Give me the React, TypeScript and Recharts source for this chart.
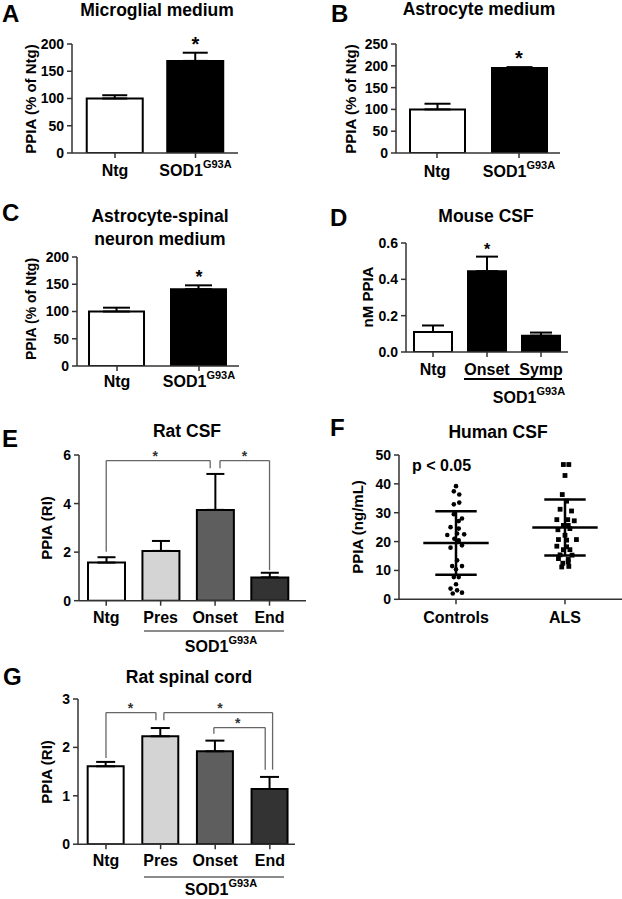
import React from 'react';
import {
  ComposedChart,
  ScatterChart,
  Bar,
  Cell,
  ErrorBar,
  Scatter,
  XAxis,
  YAxis,
  ReferenceLine,
  ReferenceDot,
} from 'recharts';

const FONT = '"Liberation Sans", Arial, Helvetica, sans-serif';

// ---- data ----
const twoCats = ['Ntg', 'SOD1^G93A'];
const stageCats = ['Ntg', 'Pres', 'Onset', 'End'];
const mouseCats = ['Ntg', 'Onset', 'Symp'];
const humanCats = ['Controls', 'ALS'];

const microgliaMean = [100, 169];
const microgliaSem = [6, 15];
const astroMean = [100, 195];
const astroSem = [13, 2];
const coCultureMean = [100, 141];
const coCultureSem = [7, 7];
const mouseCsfMean = [0.11, 0.445, 0.09];
const mouseCsfSem = [0.036, 0.08, 0.017];
const ratCsfMean = [1.57, 2.05, 3.74, 0.96];
const ratCsfSem = [0.22, 0.41, 1.48, 0.19];
const ratCordMean = [1.61, 2.23, 1.92, 1.14];
const ratCordSem = [0.09, 0.17, 0.22, 0.25];

const controlsValues = [39.2, 37.4, 36.3, 33.5, 32.9, 29.5, 28, 27.1, 25, 24.5, 22.3, 22.8, 22.5, 21, 20.4, 17.9, 18.7, 13.5, 11.5, 11.5, 10.4, 7.7, 7.7, 5.2, 3.7, 3.1, 2.0, 2.3];
const controlsJitter = [0, -0.02, 0.03, 0.03, -0.02, -0.02, 0.055, 0.025, -0.05, 0.025, -0.08, 0.01, 0.075, -0.015, 0.025, -0.05, 0.055, 0.01, -0.035, 0.055, 0, -0.02, 0.025, 0, -0.05, 0.01, -0.03, 0.055];
const alsValues = [46.7, 46.7, 42.9, 36.3, 34, 31.2, 30.6, 27.6, 27.6, 27.2, 25.6, 25.6, 24.1, 24.5, 22.2, 20.7, 20.5, 20.7, 18.4, 18.2, 17.2, 17.2, 15.4, 15.3, 14.1, 13.8, 12.5, 13, 11.2, 11.4];
const alsJitter = [-0.015, 0.035, 0, -0.025, 0.015, -0.045, 0.06, -0.075, 0.025, 0.085, -0.015, 0.03, -0.065, 0.045, 0, -0.06, 0.015, 0.105, -0.075, 0.015, -0.015, 0.045, -0.045, 0.065, -0.06, 0.03, -0.02, 0.03, -0.03, 0.035];
const humanMean = [19.5, 24.9];
const humanSd = [11.0, 9.7];

const ticks200 = [0, 50, 100, 150, 200];
const ticks250 = [0, 50, 100, 150, 200, 250];
const ticksMouse = [0, 0.2, 0.4, 0.6];
const ticksRatCsf = [0, 2, 4, 6];
const ticksHuman = [0, 10, 20, 30, 40, 50];
const ticksRatCord = [0, 1, 2, 3];

type Bracket = { x1: number; x2: number; y1: number; top: number; y2: number; star: number };

const ratCsfBrackets: Bracket[] = [
  { x1: 1, x2: 2.91, y1: 2.02, top: 5.77, y2: 5.45, star: 1.9 },
  { x1: 3.09, x2: 4, y1: 5.45, top: 5.77, y2: 1.26, star: 3.54 },
];
const ratCordBrackets: Bracket[] = [
  { x1: 1, x2: 1.915, y1: 1.78, top: 2.72, y2: 2.56, star: 1.45 },
  { x1: 2.06, x2: 4.05, y1: 2.56, top: 2.72, y2: 1.54, star: 3.085 },
  { x1: 2.975, x2: 3.915, y1: 2.28, top: 2.41, y2: 1.54, star: 3.41 },
];

const stageFills = ['#ffffff', '#d4d4d4', '#5e5e5e', '#333333'];

// ---- layout helpers ----
const YW = 50;
const PT = 18;
const XH = 40;
const axisStyle = { stroke: '#333', strokeWidth: 1.5 };
const yTickStyle = { fontSize: 14, fontWeight: 'bold', fill: '#000', fontFamily: FONT };

const CatTick = ({ x, y, payload, labels, dy }: any) => {
  const label: string = labels[Math.round(payload.value) - 1] ?? '';
  const [main, sup] = label.split('^');
  return (
    <text x={x} y={y + dy} textAnchor="middle" fontFamily={FONT} fontWeight="bold" fontSize={16} fill="#000">
      {main}
      {sup && (
        <tspan dy={-8} fontSize={11}>
          {sup}
        </tspan>
      )}
    </text>
  );
};

interface BarPanelProps {
  axisX: number;
  top: number;
  bottom: number;
  right: number;
  xDomain: [number, number];
  yDomain: [number, number];
  yTicks: number[];
  yDigits?: number;
  cats: string[];
  mean: number[];
  sem: number[];
  fills: string[];
  barSize: number;
  cap: number;
  sig?: number[];
  sigSize?: number;
  brackets?: Bracket[];
  labelDy: number;
}

const BarPanel = (p: BarPanelProps) => {
  const left = p.axisX - YW;
  const chartTop = p.top - PT;
  const width = p.right - left + 2;
  const height = p.bottom - chartTop + XH;
  const data = p.cats.map((c, i) => ({ x: i + 1, name: c, mean: p.mean[i], sem: p.sem[i] }));
  const bracketColor = '#666';
  return (
    <div style={{ position: 'absolute', left, top: chartTop }}>
      <ComposedChart width={width} height={height} data={data} margin={{ top: PT, right: 2, left: 0, bottom: 0 }}>
        <XAxis
          type="number"
          dataKey="x"
          domain={p.xDomain}
          allowDataOverflow
          ticks={data.map((d) => d.x)}
          interval={0}
          height={XH}
          tickSize={5}
          tickMargin={0}
          axisLine={axisStyle}
          tickLine={axisStyle}
          tick={(t: any) => <CatTick {...t} labels={p.cats} dy={p.labelDy} />}
        />
        <YAxis
          type="number"
          domain={p.yDomain}
          allowDataOverflow
          ticks={p.yTicks}
          interval={0}
          width={YW}
          tickSize={5}
          tickMargin={3}
          axisLine={axisStyle}
          tickLine={axisStyle}
          tick={yTickStyle}
          tickFormatter={(v) => Number(v).toFixed(p.yDigits ?? 0)}
        />
        <Bar dataKey="mean" barSize={p.barSize} stroke="#000" strokeWidth={2} isAnimationActive={false}>
          {data.map((d, i) => (
            <Cell key={d.name} fill={p.fills[i]} />
          ))}
          <ErrorBar
            dataKey={(d: any) => [0, d.sem]}
            width={p.cap}
            stroke="#000"
            strokeWidth={2}
            direction="y"
            isAnimationActive={false}
          />
        </Bar>
        {(p.sig || []).map((i) => (
          <ReferenceDot
            key={`sig${i}`}
            x={data[i].x}
            y={data[i].mean + data[i].sem}
            r={0}
            fill="none"
            stroke="none"
            label={{ value: '*', position: 'top', offset: 2, fontSize: p.sigSize ?? 20, fontWeight: 'bold', fill: '#000', fontFamily: FONT }}
          />
        ))}
        {(p.brackets || []).flatMap((b, k) => [
          <ReferenceLine key={`b${k}l`} segment={[{ x: b.x1, y: b.y1 }, { x: b.x1, y: b.top }]} stroke={bracketColor} strokeWidth={1.3} />,
          <ReferenceLine key={`b${k}t`} segment={[{ x: b.x1, y: b.top }, { x: b.x2, y: b.top }]} stroke={bracketColor} strokeWidth={1.3} />,
          <ReferenceLine key={`b${k}r`} segment={[{ x: b.x2, y: b.top }, { x: b.x2, y: b.y2 }]} stroke={bracketColor} strokeWidth={1.3} />,
          <ReferenceDot
            key={`b${k}s`}
            x={b.star}
            y={b.top}
            r={0}
            fill="none"
            stroke="none"
            label={{ value: '*', position: 'top', offset: 0, fontSize: 14, fontWeight: 'bold', fill: '#333', fontFamily: FONT }}
          />,
        ])}
      </ComposedChart>
    </div>
  );
};

const HumanPanel = () => {
  const axisX = 399;
  const top = 454.7;
  const bottom = 599;
  const right = 622;
  const left = axisX - YW;
  const chartTop = top - PT;
  const width = right - left;
  const height = bottom - chartTop + XH;
  const controls = controlsValues.map((v, i) => ({ x: 1 + controlsJitter[i], y: v }));
  const als = alsValues.map((v, i) => ({ x: 2 + alsJitter[i], y: v }));
  const circle = (s: any) => <circle cx={s.cx} cy={s.cy} r={2.3} fill="#000" />;
  const square = (s: any) => <rect x={s.cx - 2.4} y={s.cy - 2.4} width={4.8} height={4.8} fill="#000" />;
  const lineProps = { stroke: '#000', strokeWidth: 2.5 };
  return (
    <div style={{ position: 'absolute', left, top: chartTop }}>
      <ScatterChart width={width} height={height} margin={{ top: PT, right: 0, left: 0, bottom: 0 }}>
        <XAxis
          type="number"
          dataKey="x"
          domain={[0.477, 2.523]}
          allowDataOverflow
          ticks={[1, 2]}
          interval={0}
          height={XH}
          tickSize={5}
          tickMargin={0}
          axisLine={axisStyle}
          tickLine={axisStyle}
          tick={(t: any) => <CatTick {...t} labels={humanCats} dy={18.5} />}
        />
        <YAxis
          type="number"
          dataKey="y"
          domain={[0, 50]}
          allowDataOverflow
          ticks={ticksHuman}
          interval={0}
          width={YW}
          tickSize={5}
          tickMargin={3}
          axisLine={axisStyle}
          tickLine={axisStyle}
          tick={yTickStyle}
        />
        <Scatter data={controls} shape={circle} isAnimationActive={false} />
        <Scatter data={als} shape={square} isAnimationActive={false} />
        {humanMean.flatMap((m, i) => {
          const cx = i + 1;
          const sd = humanSd[i];
          return [
            <ReferenceLine key={`m${i}`} segment={[{ x: cx - 0.3, y: m }, { x: cx + 0.3, y: m }]} {...lineProps} />,
            <ReferenceLine key={`v${i}`} segment={[{ x: cx, y: m - sd }, { x: cx, y: m + sd }]} {...lineProps} />,
            <ReferenceLine key={`u${i}`} segment={[{ x: cx - 0.19, y: m + sd }, { x: cx + 0.19, y: m + sd }]} {...lineProps} />,
            <ReferenceLine key={`l${i}`} segment={[{ x: cx - 0.19, y: m - sd }, { x: cx + 0.19, y: m - sd }]} {...lineProps} />,
          ];
        })}
      </ScatterChart>
    </div>
  );
};

const YLabel = ({ x, y, text, size = 15 }: { x: number; y: number; text: string; size?: number }) => (
  <text
    x={x}
    y={y}
    transform={`rotate(-90 ${x} ${y})`}
    textAnchor="middle"
    dominantBaseline="central"
    fontSize={size}
  >
    {text}
  </text>
);

const GroupLabel = ({ x, y }: { x: number; y: number }) => (
  <text x={x} y={y} textAnchor="middle" fontSize={16}>
    SOD1
    <tspan dy={-8} fontSize={11}>
      G93A
    </tspan>
  </text>
);

const Overlay = () => (
  <svg
    width={622}
    height={899}
    style={{ position: 'absolute', left: 0, top: 0, pointerEvents: 'none' }}
    fontFamily={FONT}
    fontWeight="bold"
    fill="#000"
  >
    {/* panel letters */}
    <text x={2} y={22} fontSize={24}>A</text>
    <text x={331} y={22} fontSize={24}>B</text>
    <text x={2} y={221} fontSize={24}>C</text>
    <text x={330} y={226} fontSize={24}>D</text>
    <text x={2} y={447} fontSize={24}>E</text>
    <text x={330} y={436} fontSize={24}>F</text>
    <text x={3} y={685} fontSize={24}>G</text>

    {/* titles */}
    <text x={157} y={16} fontSize={17.5} textAnchor="middle">Microglial medium</text>
    <text x={479} y={15} fontSize={17.5} textAnchor="middle">Astrocyte medium</text>
    <text x={160} y={222} fontSize={17.5} textAnchor="middle">Astrocyte-spinal</text>
    <text x={160} y={245} fontSize={17.5} textAnchor="middle">neuron medium</text>
    <text x={486} y={222} fontSize={17.5} textAnchor="middle">Mouse CSF</text>
    <text x={187} y={437} fontSize={17.5} textAnchor="middle">Rat CSF</text>
    <text x={498} y={438} fontSize={17.5} textAnchor="middle">Human CSF</text>
    <text x={189} y={683} fontSize={17.5} textAnchor="middle">Rat spinal cord</text>

    {/* y axis titles */}
    <YLabel x={30} y={99} text="PPIA (% of Ntg)" />
    <YLabel x={350} y={99} text="PPIA (% of Ntg)" />
    <YLabel x={31} y={309} text="PPIA (% of Ntg)" size={14} />
    <YLabel x={367} y={297} text="nM PPIA" />
    <YLabel x={46} y={528} text="PPIA (RI)" />
    <YLabel x={357} y={527} text="PPIA (ng/mL)" />
    <YLabel x={46} y={772} text="PPIA (RI)" />

    {/* genotype groupings */}
    <line x1={464} x2={562} y1={379} y2={379} stroke="#000" strokeWidth={2} />
    <GroupLabel x={529} y={403} />
    <line x1={144} x2={284} y1={631} y2={631} stroke="#666" strokeWidth={1.3} />
    <GroupLabel x={221} y={652} />
    <line x1={144} x2={284} y1={877} y2={877} stroke="#666" strokeWidth={1.3} />
    <GroupLabel x={221} y={895} />

    {/* statistics note */}
    <text x={412} y={471} fontSize={16}>p &lt; 0.05</text>
  </svg>
);

const App = () => (
  <div style={{ position: 'absolute', left: 0, top: 0, width: 622, height: 899, background: '#fff', overflow: 'hidden' }}>
    <BarPanel
      axisX={72} top={44} bottom={153} right={238}
      xDomain={[0.466, 2.528]} yDomain={[0, 200]} yTicks={ticks200}
      cats={twoCats} mean={microgliaMean} sem={microgliaSem} fills={['#fff', '#000']}
      barSize={56} cap={12.5} sig={[1]} labelDy={18}
    />
    <BarPanel
      axisX={396} top={44} bottom={153} right={560}
      xDomain={[0.5, 2.5]} yDomain={[0, 250]} yTicks={ticks250}
      cats={twoCats} mean={astroMean} sem={astroSem} fills={['#fff', '#000']}
      barSize={55} cap={13} sig={[1]} labelDy={18.5}
    />
    <BarPanel
      axisX={77} top={257} bottom={366} right={239}
      xDomain={[0.512, 2.488]} yDomain={[0, 200]} yTicks={ticks200}
      cats={twoCats} mean={coCultureMean} sem={coCultureSem} fills={['#fff', '#000']}
      barSize={55} cap={13.5} sig={[1]} sigSize={18} labelDy={16}
    />
    <BarPanel
      axisX={406} top={243} bottom={352} right={568}
      xDomain={[0.5, 3.5]} yDomain={[0, 0.6]} yTicks={ticksMouse} yDigits={1}
      cats={mouseCats} mean={mouseCsfMean} sem={mouseCsfSem} fills={['#fff', '#000', '#000']}
      barSize={38} cap={11} sig={[1]} sigSize={16} labelDy={18}
    />
    <BarPanel
      axisX={79} top={455} bottom={600.7} right={306}
      xDomain={[0.5, 4.67]} yDomain={[0, 6]} yTicks={ticksRatCsf}
      cats={stageCats} mean={ratCsfMean} sem={ratCsfSem} fills={stageFills}
      barSize={37} cap={9} brackets={ratCsfBrackets} labelDy={17.5}
    />
    <HumanPanel />
    <BarPanel
      axisX={78} top={699.3} bottom={844.5} right={295}
      xDomain={[0.488, 4.46]} yDomain={[0, 3]} yTicks={ticksRatCord}
      cats={stageCats} mean={ratCordMean} sem={ratCordSem} fills={stageFills}
      barSize={36} cap={9.5} brackets={ratCordBrackets} labelDy={17}
    />
    <Overlay />
  </div>
);

export default App;
